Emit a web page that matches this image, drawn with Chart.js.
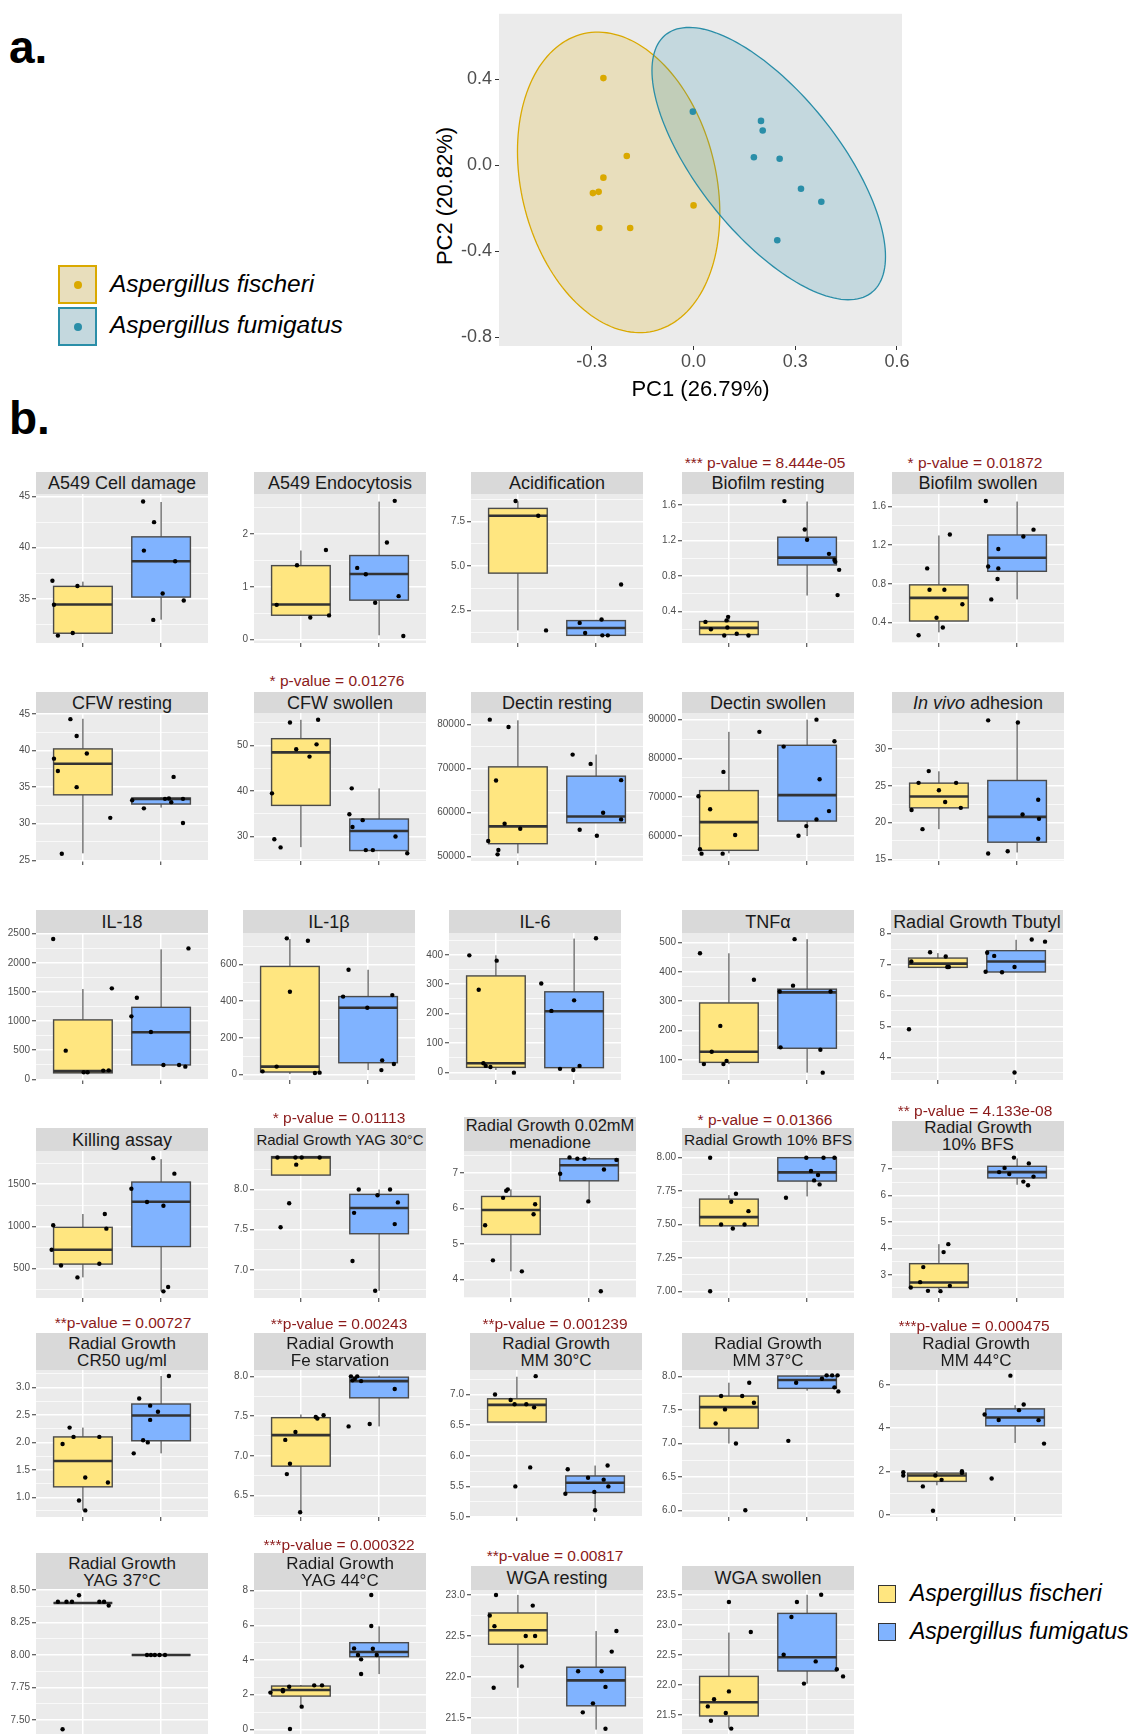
<!DOCTYPE html>
<html>
<head>
<meta charset="utf-8">
<script src="https://cdn.jsdelivr.net/npm/chart.js@4.4.0/dist/chart.umd.min.js"></script>
<style>
body { margin: 0; background: #fff; font-family: "Liberation Sans", Arial, sans-serif; }
#page { position: relative; width: 1137px; height: 1734px; overflow: hidden; }
canvas { position: absolute; }
.strip { position: absolute; background: #d9d9d9; color: #1a1a1a; display: flex; align-items: center; justify-content: center; text-align: center; overflow: hidden; }
.strip span { display: inline-block; white-space: nowrap; }
.pval { position: absolute; color: #8b1a1a; font-size: 15.5px; white-space: nowrap; transform: translate(-50%, -50%); }
.tag { position: absolute; font-weight: bold; font-size: 46px; line-height: 46px; color: #000; }
.leg { position: absolute; font-style: italic; color: #000; white-space: nowrap; transform: translateY(-50%); }
.key { position: absolute; box-sizing: border-box; }
.dot { position: absolute; border-radius: 50%; }
.ytitle { position: absolute; font-size: 22px; color: #000; white-space: nowrap; transform: translate(-50%, -50%) rotate(-90deg); }
</style>
</head>
<body>
<div id="page">
  <div class="tag" style="left:9px;top:24px;">a.</div>
  <div class="tag" style="left:9px;top:395px;">b.</div>
  <div class="ytitle" style="left:445px;top:196px;">PC2 (20.82%)</div>
</div>
<script>
// ---- panel a: PCA scores ----
const pc1Fischeri = [-0.266, -0.197, -0.266, -0.280, -0.297, 0.000, -0.278, -0.187];
const pc2Fischeri = [0.406, 0.044, -0.057, -0.123, -0.129, -0.186, -0.291, -0.291];
const pc1Fumigatus = [-0.002, 0.199, 0.204, 0.178, 0.254, 0.317, 0.377, 0.247];
const pc2Fumigatus = [0.250, 0.207, 0.162, 0.038, 0.031, -0.109, -0.169, -0.348];
// ellipse: centre x, centre y, then two axis vectors (data units)
const ellipseFischeri = [-0.221, -0.079, 0.2985, -0.1444, 0, 0.6837];
const ellipseFumigatus = [0.2218, 0.0083, 0.3445, -0.4326, 0, 0.4625];
const pcaXTicks = [-0.3, 0.0, 0.3, 0.6];
const pcaXLabels = ['-0.3', '0.0', '0.3', '0.6'];
const pcaYTicks = [-0.8, -0.4, 0.0, 0.4];
const pcaYLabels = ['-0.8', '-0.4', '0.0', '0.4'];
const speciesNames = ['Aspergillus fischeri', 'Aspergillus fumigatus'];

// ---- panel b: box plots ----
const panelTitles = [
  'A549 Cell damage', 'A549 Endocytosis', 'Acidification', 'Biofilm resting', 'Biofilm swollen',
  'CFW resting', 'CFW swollen', 'Dectin resting', 'Dectin swollen', '<i>In vivo</i> adhesion',
  'IL-18', 'IL-1β', 'IL-6', 'TNFα', 'Radial Growth Tbutyl',
  'Killing assay', 'Radial Growth YAG 30°C', 'Radial Growth 0.02mM\nmenadione', 'Radial Growth 10% BFS', 'Radial Growth\n10% BFS',
  'Radial Growth\nCR50 ug/ml', 'Radial Growth\nFe starvation', 'Radial Growth\nMM 30°C', 'Radial Growth\nMM 37°C', 'Radial Growth\nMM 44°C',
  'Radial Growth\nYAG 37°C', 'Radial Growth\nYAG 44°C', 'WGA resting', 'WGA swollen'
];

const pValueLabels = [
  '', '', '', '*** p-value = 8.444e-05', '* p-value = 0.01872',
  '', '* p-value =  0.01276', '', '', '',
  '', '', '', '', '',
  '', '* p-value = 0.01113', '', '* p-value = 0.01366', '** p-value = 4.133e-08',
  '**p-value = 0.00727', '**p-value = 0.00243', '**p-value = 0.001239', '', '***p-value = 0.000475',
  '', '***p-value = 0.000322', '**p-value = 0.00817', ''
];

const yRanges = [
  [30.73, 45.23], [-0.063, 2.76], [0.66, 9.04], [0.045, 1.725], [0.19, 1.728],
  [24.9, 45.14], [24.6, 57.2], [48940, 82650], [53570, 91710], [14.77, 34.9],
  [-12, 2512], [-29, 771], [-26, 474], [32, 532], [3.27, 8.02],
  [148, 1895], [6.65, 8.48], [3.48, 7.62], [6.95, 8.05], [2.12, 7.69],
  [0.64, 3.32], [6.23, 8.08], [5.0, 7.40], [5.9, 8.1], [-0.09, 6.68],
  [7.37, 8.50], [-0.44, 8.04], [21.27, 23.06], [21.13, 23.58]
];

const yTicks = [
  [35, 40, 45], [0, 1, 2], [2.5, 5, 7.5], [0.4, 0.8, 1.2, 1.6], [0.4, 0.8, 1.2, 1.6],
  [25, 30, 35, 40, 45], [30, 40, 50], [50000, 60000, 70000, 80000], [60000, 70000, 80000, 90000], [15, 20, 25, 30],
  [0, 500, 1000, 1500, 2000, 2500], [0, 200, 400, 600], [0, 100, 200, 300, 400], [100, 200, 300, 400, 500], [4, 5, 6, 7, 8],
  [500, 1000, 1500], [7.0, 7.5, 8.0], [4, 5, 6, 7], [7.0, 7.25, 7.5, 7.75, 8.0], [3, 4, 5, 6, 7],
  [1.0, 1.5, 2.0, 2.5, 3.0], [6.5, 7.0, 7.5, 8.0], [5.0, 5.5, 6.0, 6.5, 7.0], [6.0, 6.5, 7.0, 7.5, 8.0], [0, 2, 4, 6],
  [7.5, 7.75, 8.0, 8.25, 8.5], [0, 2, 4, 6, 8], [21.5, 22.0, 22.5, 23.0], [21.5, 22.0, 22.5, 23.0, 23.5]
];

const yTickLabels = [
  ['35', '40', '45'], ['0', '1', '2'], ['2.5', '5.0', '7.5'], ['0.4', '0.8', '1.2', '1.6'], ['0.4', '0.8', '1.2', '1.6'],
  ['25', '30', '35', '40', '45'], ['30', '40', '50'], ['50000', '60000', '70000', '80000'], ['60000', '70000', '80000', '90000'], ['15', '20', '25', '30'],
  ['0', '500', '1000', '1500', '2000', '2500'], ['0', '200', '400', '600'], ['0', '100', '200', '300', '400'], ['100', '200', '300', '400', '500'], ['4', '5', '6', '7', '8'],
  ['500', '1000', '1500'], ['7.0', '7.5', '8.0'], ['4', '5', '6', '7'], ['7.00', '7.25', '7.50', '7.75', '8.00'], ['3', '4', '5', '6', '7'],
  ['1.0', '1.5', '2.0', '2.5', '3.0'], ['6.5', '7.0', '7.5', '8.0'], ['5.0', '5.5', '6.0', '6.5', '7.0'], ['6.0', '6.5', '7.0', '7.5', '8.0'], ['0', '2', '4', '6'],
  ['7.50', '7.75', '8.00', '8.25', '8.50'], ['0', '2', '4', '6', '8'], ['21.5', '22.0', '22.5', '23.0'], ['21.5', '22.0', '22.5', '23.0', '23.5']
];

// box stats: lower whisker, Q1, median, Q3, upper whisker
const fischeriBoxes = [
  [31.68, 31.68, 34.48, 36.24, 36.7], [0.46, 0.463, 0.667, 1.403, 1.689], [1.37, 4.59, 7.82, 8.23, 8.63], [0.14, 0.14, 0.215, 0.287, 0.34], [0.30, 0.417, 0.656, 0.79, 1.30],
  [25.95, 33.95, 38.2, 40.23, 44.35], [27.65, 36.85, 48.53, 51.54, 55.7], [50680, 52880, 56820, 70380, 80980], [55550, 56320, 63600, 71710, 86850], [19.1, 22.0, 23.55, 25.36, 26.97],
  [100, 110, 140, 1020, 1550], [3.6, 14.5, 43.6, 589, 738], [8, 17, 31, 328, 398], [86, 92, 128, 294, 463], [6.91, 6.91, 7.03, 7.21, 7.37],
  [393, 551, 721, 988, 1146], [8.18, 8.18, 8.40, 8.41, 8.41], [4.23, 5.27, 5.96, 6.34, 6.54], [7.49, 7.49, 7.555, 7.69, 7.72], [2.44, 2.52, 2.71, 3.42, 4.16],
  [0.76, 1.19, 1.66, 2.10, 2.27], [6.29, 6.87, 7.26, 7.48, 7.52], [6.55, 6.55, 6.83, 6.93, 7.29], [7.0, 7.23, 7.545, 7.71, 7.91], [1.37, 1.55, 1.82, 1.93, 2.03],
  [8.40, 8.40, 8.40, 8.40, 8.40], [1.31, 1.92, 2.27, 2.50, 2.56], [21.87, 22.40, 22.57, 22.78, 23.0], [21.27, 21.48, 21.71, 22.14, 22.87]
];
const fumigatusBoxes = [
  [33.0, 35.2, 38.68, 41.06, 44.45], [0.083, 0.749, 1.244, 1.594, 2.616], [1.09, 1.09, 1.50, 1.92, 1.96], [0.58, 0.925, 1.008, 1.238, 1.64], [0.64, 0.93, 1.07, 1.305, 1.65],
  [32.2, 32.69, 33.38, 33.52, 33.6], [26.9, 26.9, 31.2, 33.85, 40.6], [57650, 57650, 59090, 68260, 73180], [60000, 63860, 70540, 83390, 90000], [15.93, 17.33, 20.77, 25.72, 33.7],
  [229, 246, 807, 1236, 2231], [25, 65, 364, 425, 571], [8, 16, 208, 274, 455], [57, 140, 330, 341, 511], [6.76, 6.76, 7.10, 7.45, 7.80],
  [227, 759, 1292, 1526, 1798], [6.74, 7.45, 7.77, 7.94, 8.0], [6.20, 6.78, 7.22, 7.40, 7.44], [7.71, 7.825, 7.89, 8.0, 8.0], [6.41, 6.67, 6.89, 7.11, 7.41],
  [1.80, 2.03, 2.49, 2.70, 3.21], [7.37, 7.73, 7.94, 7.99, 8.01], [5.11, 5.40, 5.56, 5.67, 5.84], [7.79, 7.825, 7.95, 8.01, 8.02], [3.32, 4.11, 4.49, 4.89, 5.06],
  [8.0, 8.0, 8.0, 8.0, 8.0], [3.19, 4.19, 4.46, 5.0, 5.94], [21.36, 21.65, 21.96, 22.12, 22.56], [22.02, 22.23, 22.46, 23.19, 23.5]
];

// jittered points [x, y]; x is the category (1 = fischeri, 2 = fumigatus) plus jitter
const fischeriPoints = [
  [[0.61, 36.79], [0.63, 34.45], [0.68, 31.45], [0.87, 31.71], [0.93, 36.27]],
  [[0.69, 0.66], [0.95, 1.41], [1.12, 0.42], [1.32, 1.70], [1.36, 0.46]],
  [[0.97, 8.65], [1.26, 7.82], [1.36, 1.37]],
  [[0.70, 0.283], [0.77, 0.20], [0.94, 0.13], [0.97, 0.30], [0.99, 0.34], [0.98, 0.22], [1.10, 0.15], [1.25, 0.13]],
  [[0.74, 0.27], [0.85, 0.96], [0.88, 0.74], [0.97, 0.45], [1.05, 0.35], [1.07, 0.74], [1.14, 1.31], [1.30, 0.59]],
  [[0.63, 38.9], [0.68, 37.2], [0.84, 44.3], [0.92, 42.0], [0.92, 35.0], [1.05, 39.6], [0.73, 25.9], [1.35, 30.8]],
  [[0.63, 39.5], [0.66, 29.4], [0.74, 27.6], [0.86, 55.1], [0.94, 49.2], [1.11, 47.6], [1.20, 50.3], [1.22, 55.7]],
  [[0.64, 81140], [0.62, 53480], [0.72, 67270], [0.74, 50450], [0.75, 51440], [0.83, 57420], [0.88, 79470], [1.03, 56290]],
  [[0.61, 70260], [0.63, 56600], [0.65, 55460], [0.76, 66920], [0.92, 55460], [0.93, 76530], [1.08, 60260], [1.39, 86850]],
  [[0.65, 21.7], [0.74, 25.4], [0.79, 19.1], [0.87, 27.0], [1.0, 24.4], [1.08, 22.8], [1.22, 25.4], [1.28, 22.0]],
  [[0.62, 2410], [0.78, 492], [1.01, 120], [1.06, 120], [1.26, 149], [1.33, 154], [1.37, 1562]],
  [[0.65, 18], [0.83, 44], [0.96, 742], [1.0, 451], [1.23, 729], [1.32, 9], [1.38, 11]],
  [[0.66, 398], [0.78, 281], [0.84, 31], [0.87, 22], [0.93, 18], [1.01, 380], [1.23, -1]],
  [[0.63, 463], [0.68, 86], [0.78, 128], [0.89, 216], [0.93, 86], [0.97, 97], [1.32, 373]],
  [[0.63, 4.91], [0.66, 7.10], [0.90, 7.40], [1.10, 7.26], [1.12, 6.92], [1.14, 6.92]],
  [[0.60, 721], [0.62, 1012], [0.72, 535], [0.93, 393], [1.21, 555], [1.28, 1146], [1.30, 972]],
  [[0.70, 8.40], [0.74, 7.53], [0.85, 7.83], [0.93, 8.40], [0.94, 8.31], [1.01, 8.40], [1.24, 8.40]],
  [[0.67, 5.53], [0.77, 4.54], [0.90, 6.30], [0.94, 6.50], [0.96, 6.54], [1.14, 4.23], [1.29, 5.84], [1.31, 6.12]],
  [[0.76, 8.0], [0.76, 7.0], [0.90, 7.50], [1.03, 7.67], [1.05, 7.47], [1.09, 7.73], [1.20, 7.50], [1.25, 7.60]],
  [[0.64, 2.52], [0.76, 2.72], [0.80, 3.29], [0.86, 2.39], [1.02, 2.38], [1.14, 2.58], [1.06, 3.86], [1.12, 4.16]],
  [[0.74, 1.97], [0.83, 2.27], [0.88, 2.10], [0.95, 0.94], [1.03, 1.36], [1.03, 0.76], [1.21, 2.10], [1.32, 1.27]],
  [[0.80, 7.20], [0.82, 6.77], [0.86, 6.90], [0.93, 7.30], [0.99, 6.29], [1.19, 7.49], [1.21, 7.47], [1.29, 7.51]],
  [[0.72, 7.0], [0.92, 6.91], [0.97, 6.84], [0.98, 5.50], [1.12, 6.84], [1.17, 5.81], [1.22, 6.79], [1.24, 7.30]],
  [[0.83, 7.30], [0.90, 7.71], [0.95, 7.51], [1.09, 7.0], [1.17, 7.71], [1.21, 6.0], [1.26, 7.91], [1.32, 7.61]],
  [[0.57, 1.97], [0.57, 1.82], [0.82, 1.32], [0.95, 0.2], [0.98, 1.82], [1.06, 1.62], [1.32, 2.02], [1.32, 1.94]],
  [[0.68, 8.41], [0.79, 8.41], [0.86, 8.41], [0.95, 8.46], [1.21, 8.41], [1.27, 8.41], [1.33, 8.38], [0.74, 7.43]],
  [[0.61, 2.12], [0.77, 2.27], [0.85, 2.46], [1.01, 1.31], [0.86, 0.02], [1.17, 2.54], [1.27, 2.54], [0.77, 2.20]],
  [[0.64, 22.75], [0.70, 22.62], [0.72, 23.0], [0.69, 21.87], [1.05, 22.13], [1.10, 22.5], [1.19, 22.87], [1.22, 22.5]],
  [[0.73, 21.64], [0.77, 21.40], [0.81, 21.76], [0.96, 21.53], [1.0, 21.89], [1.0, 23.38], [1.03, 21.27], [1.28, 22.88]]
];
const fumigatusPoints = [
  [[1.77, 44.5], [1.91, 42.49], [1.78, 39.72], [2.18, 38.68], [2.02, 35.55], [2.29, 34.87], [1.90, 32.98]],
  [[1.72, 1.36], [1.83, 1.24], [1.95, 0.70], [2.10, 1.84], [2.20, 2.63], [2.25, 0.825], [2.31, 0.07]],
  [[1.79, 1.79], [1.86, 1.22], [2.07, 1.98], [2.08, 1.09], [2.15, 1.09], [2.32, 3.95]],
  [[1.71, 1.645], [1.97, 1.325], [2.0, 1.21], [2.28, 1.05], [2.35, 0.98], [2.36, 0.96], [2.41, 0.87], [2.39, 0.585]],
  [[1.60, 1.655], [1.63, 0.98], [1.76, 1.16], [1.76, 0.96], [1.75, 0.85], [1.67, 0.64], [2.08, 1.29], [2.21, 1.36]],
  [[1.63, 33.2], [1.78, 32.1], [2.05, 33.4], [2.10, 33.45], [2.13, 32.95], [2.16, 36.4], [2.28, 33.4], [2.28, 30.1]],
  [[1.62, 34.9], [1.65, 40.6], [1.66, 32.1], [1.79, 33.6], [1.83, 27.0], [1.92, 27.0], [2.21, 30.0], [2.36, 26.3]],
  [[1.70, 73180], [1.79, 56060], [1.93, 71060], [2.01, 54700], [2.09, 59920], [2.32, 67350], [2.32, 58410]],
  [[1.70, 83050], [1.89, 60090], [1.99, 62570], [2.12, 64290], [2.16, 74650], [2.12, 90000], [2.28, 66430], [2.35, 84420]],
  [[1.63, 33.9], [1.63, 15.8], [1.88, 16.1], [2.01, 33.6], [2.07, 21.1], [2.27, 23.1], [2.28, 20.5], [2.27, 17.8]],
  [[1.62, 1081], [1.69, 1401], [1.87, 812], [2.03, 246], [2.23, 246], [2.31, 217], [2.35, 2248]],
  [[1.68, 425], [1.75, 571], [1.99, 364], [2.17, 25], [2.18, 78], [2.31, 433], [2.33, 58]],
  [[1.58, 302], [1.71, 209], [1.82, 12], [1.99, 8], [2.0, 245], [2.07, 22], [2.28, 456]],
  [[1.65, 333], [1.66, 143], [1.82, 353], [1.84, 511], [2.17, 135], [2.20, 57], [2.30, 333]],
  [[1.61, 6.77], [1.63, 7.38], [1.72, 7.28], [1.82, 6.75], [1.98, 6.92], [1.98, 3.51], [2.20, 7.81], [2.37, 7.74]],
  [[1.62, 1447], [1.82, 1289], [1.90, 1810], [2.03, 1245], [2.03, 227], [2.09, 278], [2.17, 1626]],
  [[1.66, 7.11], [1.68, 7.71], [1.74, 8.0], [1.98, 7.93], [2.14, 8.0], [2.20, 7.57], [2.24, 7.84], [1.95, 6.74]],
  [[1.63, 6.98], [1.75, 7.44], [1.85, 7.40], [1.94, 7.40], [1.99, 6.20], [2.19, 7.10], [2.35, 7.37], [2.15, 3.67]],
  [[1.73, 7.70], [1.99, 8.0], [2.05, 7.90], [2.09, 7.83], [2.14, 7.87], [2.16, 7.80], [2.21, 8.0], [2.35, 8.0]],
  [[1.77, 6.89], [1.84, 7.05], [1.90, 6.82], [1.96, 7.44], [2.08, 6.53], [2.15, 7.22], [2.14, 6.39], [2.21, 6.72]],
  [[1.65, 1.80], [1.72, 2.80], [1.77, 2.04], [1.83, 2.0], [1.86, 2.67], [1.86, 2.41], [1.96, 2.56], [2.10, 3.21]],
  [[1.61, 7.37], [1.64, 8.0], [1.66, 7.95], [1.69, 7.97], [1.72, 8.0], [1.77, 7.94], [1.88, 7.40], [2.20, 7.84]],
  [[1.62, 5.38], [1.65, 5.78], [1.91, 5.64], [1.99, 5.41], [2.0, 5.11], [2.11, 5.61], [2.17, 5.50], [2.16, 5.84]],
  [[1.76, 7.04], [1.86, 7.91], [2.19, 7.97], [2.25, 8.02], [2.32, 8.02], [2.35, 7.84], [2.39, 8.02], [2.40, 7.78]],
  [[1.61, 4.63], [1.70, 1.68], [1.79, 4.38], [1.94, 6.42], [2.05, 4.83], [2.11, 5.09], [2.30, 4.37], [2.37, 3.29]],
  [[1.82, 8.0], [1.87, 8.0], [1.92, 8.0], [1.98, 8.0], [2.05, 8.0]],
  [[1.68, 4.67], [1.73, 4.29], [1.77, 4.04], [1.77, 3.19], [1.90, 7.75], [1.90, 5.96], [1.92, 4.65], [1.97, 4.29]],
  [[1.77, 22.07], [1.83, 21.57], [1.96, 21.68], [2.07, 22.07], [2.12, 21.88], [2.12, 21.37], [2.20, 22.31], [2.26, 22.56]],
  [[1.70, 22.5], [1.80, 23.13], [1.87, 23.38], [1.96, 22.02], [2.11, 22.39], [2.18, 23.5], [2.38, 22.26], [2.46, 22.14]]
];

// ---- layout (pixels) ----
const colLefts = [[36, 254, 471, 682, 892], [36, 254, 471, 682, 892], [36, 243, 449, 682, 891], [36, 254, 464, 682, 892], [36, 254, 470, 682, 890], [36, 254, 471, 682]];
const stripTops = [[472, 472, 472, 472, 472], [692, 692, 692, 692, 692], [910, 910, 910, 910, 910], [1128, 1128, 1117, 1128, 1121], [1333, 1333, 1333, 1333, 1333], [1553, 1553, 1566, 1566]];
const plotTops = [494, 713, 933, 1151, 1370, 1590];
const plotBottoms = [643, 861, 1080, 1298, 1517, 1737];
const pValueSpots = { 3: [765, 463], 4: [975, 463], 6: [337, 681], 16: [339, 1118], 18: [765, 1120], 19: [975, 1111],
  20: [123, 1323], 21: [339, 1324], 22: [555, 1324], 24: [974, 1326], 26: [339, 1545], 27: [555, 1556] };

const PANEL_W = 172, Y_AXIS_W = 40, X_AXIS_H = 6, PAD_T = 8, PAD_B = 2, PAD_R = 4;
const FISCHERI_FILL = '#ffe680', FUMIGATUS_FILL = '#80b3ff';
const FISCHERI_DOT = '#daa900', FUMIGATUS_DOT = '#2a8ea8';
const FONT = '"Liberation Sans", Arial, sans-serif';
const page = document.getElementById('page');

// grey panel background + boxes drawn through the chart scales
const boxPlugin = {
  id: 'boxes',
  beforeDraw(chart) {
    const { ctx, chartArea: a } = chart;
    ctx.save();
    ctx.fillStyle = '#ebebeb';
    ctx.fillRect(a.left, a.top, a.right - a.left, a.bottom - a.top);
    ctx.restore();
  },
  beforeDatasetsDraw(chart, args, opts) {
    if (!opts.boxes) return;
    const { ctx, chartArea: a } = chart;
    const xs = chart.scales.x, ys = chart.scales.y;
    const py = v => ys.getPixelForValue(v);
    ctx.save();
    ctx.beginPath();
    ctx.rect(a.left, a.top, a.right - a.left, a.bottom - a.top);
    ctx.clip();
    opts.boxes.forEach((b, k) => {
      const [lo, q1, med, q3, hi] = b;
      const cx = xs.getPixelForValue(k + 1);
      const x0 = xs.getPixelForValue(k + 1 - 0.375), x1 = xs.getPixelForValue(k + 1 + 0.375);
      ctx.strokeStyle = '#333';
      ctx.lineWidth = 1;
      ctx.beginPath();
      ctx.moveTo(cx, py(hi)); ctx.lineTo(cx, py(q3));
      ctx.moveTo(cx, py(q1)); ctx.lineTo(cx, py(lo));
      ctx.stroke();
      ctx.fillStyle = opts.fills[k];
      ctx.fillRect(x0, py(q3), x1 - x0, py(q1) - py(q3));
      ctx.lineWidth = 1.4;
      ctx.strokeStyle = '#4a4a4a';
      ctx.strokeRect(x0, py(q3), x1 - x0, py(q1) - py(q3));
      ctx.lineWidth = 2.6;
      ctx.strokeStyle = '#333';
      ctx.beginPath();
      ctx.moveTo(x0, py(med)); ctx.lineTo(x1, py(med));
      ctx.stroke();
    });
    ctx.restore();
  }
};

// confidence ellipses for the PCA
const ellipsePlugin = {
  id: 'ellipses',
  beforeDatasetsDraw(chart, args, opts) {
    const { ctx, chartArea: a } = chart;
    const xs = chart.scales.x, ys = chart.scales.y;
    ctx.save();
    ctx.beginPath();
    ctx.rect(a.left, a.top, a.right - a.left, a.bottom - a.top);
    ctx.clip();
    opts.shapes.forEach(s => {
      const [cx, cy, ux, uy, vx, vy] = s.p;
      ctx.beginPath();
      for (let k = 0; k <= 160; k++) {
        const t = k / 160 * 2 * Math.PI;
        const px = xs.getPixelForValue(cx + ux * Math.cos(t) + vx * Math.sin(t));
        const pyy = ys.getPixelForValue(cy + uy * Math.cos(t) + vy * Math.sin(t));
        if (k === 0) ctx.moveTo(px, pyy); else ctx.lineTo(px, pyy);
      }
      ctx.closePath();
      ctx.fillStyle = s.fill;
      ctx.fill();
      ctx.strokeStyle = s.line;
      ctx.lineWidth = 1.3;
      ctx.stroke();
    });
    ctx.restore();
  }
};

function addCanvas(left, top, w, h) {
  const c = document.createElement('canvas');
  c.width = w; c.height = h;
  c.style.left = left + 'px'; c.style.top = top + 'px';
  c.style.width = w + 'px'; c.style.height = h + 'px';
  page.appendChild(c);
  return c;
}

// major ticks plus ggplot-style minor lines half way between
function buildTicks(major, min, max) {
  const out = major.map(v => ({ value: v }));
  const step = major[1] - major[0];
  for (let k = -1; k < major.length; k++) {
    const m = k < 0 ? major[0] - step / 2 : major[k] + step / 2;
    if (m > min && m < max) out.push({ value: m, minor: true });
  }
  return out.sort((p, q) => p.value - q.value);
}

function drawPanel(i, left, stripTop, plotTop, plotBottom) {
  // facet strip
  const strip = document.createElement('div');
  strip.className = 'strip';
  strip.style.left = left + 'px';
  strip.style.top = stripTop + 'px';
  strip.style.width = PANEL_W + 'px';
  strip.style.height = (plotTop - stripTop) + 'px';
  const span = document.createElement('span');
  const twoLines = panelTitles[i].includes('\n');
  let size = twoLines ? 17 : 18;
  span.innerHTML = panelTitles[i].replace('\n', '<br>');
  span.style.fontSize = size + 'px';
  span.style.lineHeight = twoLines ? '17px' : '1';
  strip.appendChild(span);
  page.appendChild(strip);
  while (span.offsetWidth > PANEL_W - 3 && size > 10) {
    size -= 0.5;
    span.style.fontSize = size + 'px';
  }

  if (pValueLabels[i]) {
    const p = document.createElement('div');
    p.className = 'pval';
    p.textContent = pValueLabels[i];
    p.style.left = pValueSpots[i][0] + 'px';
    p.style.top = pValueSpots[i][1] + 'px';
    page.appendChild(p);
  }

  const plotH = plotBottom - plotTop;
  const canvas = addCanvas(left - Y_AXIS_W, plotTop - PAD_T, Y_AXIS_W + PANEL_W + PAD_R, PAD_T + plotH + X_AXIS_H + PAD_B);
  const [ymin, ymax] = yRanges[i];
  const isMinor = c => c.tick && c.tick.minor;

  new Chart(canvas, {
    type: 'scatter',
    data: {
      datasets: [
        { data: fischeriPoints[i].map(p => ({ x: p[0], y: p[1] })), backgroundColor: '#000', pointRadius: 2.2, borderWidth: 0 },
        { data: fumigatusPoints[i].map(p => ({ x: p[0], y: p[1] })), backgroundColor: '#000', pointRadius: 2.2, borderWidth: 0 }
      ]
    },
    options: {
      responsive: false, animation: false, devicePixelRatio: 1, events: [],
      layout: { padding: { top: PAD_T, right: PAD_R, bottom: PAD_B, left: 0 } },
      plugins: {
        legend: { display: false }, tooltip: { enabled: false },
        boxes: { boxes: [fischeriBoxes[i], fumigatusBoxes[i]], fills: [FISCHERI_FILL, FUMIGATUS_FILL] }
      },
      scales: {
        x: {
          type: 'linear', min: 0.4, max: 2.6,
          afterBuildTicks: s => { s.ticks = [{ value: 1 }, { value: 2 }]; },
          afterFit: s => { s.height = X_AXIS_H; },
          ticks: { callback: () => '', font: { size: 2 } },
          grid: { color: '#fff', lineWidth: 1.5, tickColor: '#333', tickLength: 4, tickWidth: 1 },
          border: { display: false }
        },
        y: {
          min: ymin, max: ymax,
          afterBuildTicks: s => { s.ticks = buildTicks(yTicks[i], ymin, ymax); },
          afterFit: s => { s.width = Y_AXIS_W; },
          ticks: {
            autoSkip: false, padding: 2, color: '#4d4d4d', font: { size: 10, family: FONT },
            callback: (v, k, ticks) => {
              if (ticks[k] && ticks[k].minor) return '';
              const j = yTicks[i].findIndex(t => Math.abs(t - v) < 1e-6);
              return j < 0 ? '' : yTickLabels[i][j];
            }
          },
          grid: {
            color: '#fff',
            lineWidth: c => isMinor(c) ? 0.7 : 1.5,
            tickColor: c => isMinor(c) ? 'rgba(0,0,0,0)' : '#333',
            tickLength: 4, tickWidth: 1
          },
          border: { display: false }
        }
      }
    },
    plugins: [boxPlugin]
  });
}

// ---- panel a ----
(function drawPca() {
  const canvas = addCanvas(420, 0, 500, 405);
  new Chart(canvas, {
    type: 'scatter',
    data: {
      datasets: [
        { data: pc1Fischeri.map((x, k) => ({ x, y: pc2Fischeri[k] })), backgroundColor: FISCHERI_DOT, pointRadius: 3.3, borderWidth: 0 },
        { data: pc1Fumigatus.map((x, k) => ({ x, y: pc2Fumigatus[k] })), backgroundColor: FUMIGATUS_DOT, pointRadius: 3.3, borderWidth: 0 }
      ]
    },
    options: {
      responsive: false, animation: false, devicePixelRatio: 1, events: [],
      layout: { padding: { top: 9, right: 18, bottom: 0, left: 0 } },
      plugins: {
        legend: { display: false }, tooltip: { enabled: false },
        ellipses: { shapes: [
          { p: ellipseFischeri, fill: 'rgba(218,169,0,0.2)', line: FISCHERI_DOT },
          { p: ellipseFumigatus, fill: 'rgba(42,142,168,0.2)', line: FUMIGATUS_DOT }
        ] }
      },
      scales: {
        x: {
          type: 'linear', min: -0.574, max: 0.615,
          afterBuildTicks: s => { s.ticks = pcaXTicks.map(v => ({ value: v })); },
          afterFit: s => { s.height = 59; },
          ticks: { color: '#4d4d4d', padding: 1, font: { size: 18, family: FONT }, callback: (v, k) => pcaXLabels[k] },
          grid: { color: 'rgba(0,0,0,0)', tickColor: '#333', tickLength: 4, tickWidth: 1 },
          border: { display: false },
          title: { display: true, text: 'PC1 (26.79%)', color: '#000', font: { size: 22, family: FONT }, padding: { top: 0, bottom: 2 } }
        },
        y: {
          min: -0.84, max: 0.705,
          afterBuildTicks: s => { s.ticks = pcaYTicks.map(v => ({ value: v })); },
          afterFit: s => { s.width = 79; },
          ticks: { color: '#4d4d4d', padding: 3, font: { size: 18, family: FONT }, callback: (v, k) => pcaYLabels[k] },
          grid: { color: 'rgba(0,0,0,0)', tickColor: '#333', tickLength: 4, tickWidth: 1 },
          border: { display: false }
        }
      }
    },
    plugins: [boxPlugin, ellipsePlugin]
  });
})();

// legend keys and labels
function addKey(left, top, size, fill, border, dotColor) {
  const k = document.createElement('div');
  k.className = 'key';
  k.style.cssText += `left:${left}px;top:${top}px;width:${size}px;height:${size}px;background:${fill};border:${border};`;
  page.appendChild(k);
  if (dotColor) {
    const d = document.createElement('div');
    d.className = 'dot';
    d.style.cssText += `left:${left + size / 2 - 4}px;top:${top + size / 2 - 4}px;width:8px;height:8px;background:${dotColor};`;
    page.appendChild(d);
  }
}
function addLegendText(left, centerY, size, text) {
  const t = document.createElement('div');
  t.className = 'leg';
  t.style.left = left + 'px';
  t.style.top = centerY + 'px';
  t.style.fontSize = size + 'px';
  t.textContent = text;
  page.appendChild(t);
}
addKey(58, 265, 39, 'rgb(232,222,188)', '2px solid ' + FISCHERI_DOT, FISCHERI_DOT);
addKey(58, 307, 39, 'rgb(196,216,222)', '2px solid ' + FUMIGATUS_DOT, FUMIGATUS_DOT);
addLegendText(110, 284, 24.5, speciesNames[0]);
addLegendText(110, 325, 24.5, speciesNames[1]);

// ---- panel b ----
let idx = 0;
colLefts.forEach((lefts, r) => {
  lefts.forEach((left, c) => {
    drawPanel(idx, left, stripTops[r][c], plotTops[r], plotBottoms[r]);
    idx++;
  });
});

addKey(878, 1585, 18, FISCHERI_FILL, '1px solid #333');
addKey(878, 1623, 18, FUMIGATUS_FILL, '1px solid #333');
addLegendText(910, 1593, 23, speciesNames[0]);
addLegendText(910, 1631, 23, speciesNames[1]);
</script>
</body>
</html>
